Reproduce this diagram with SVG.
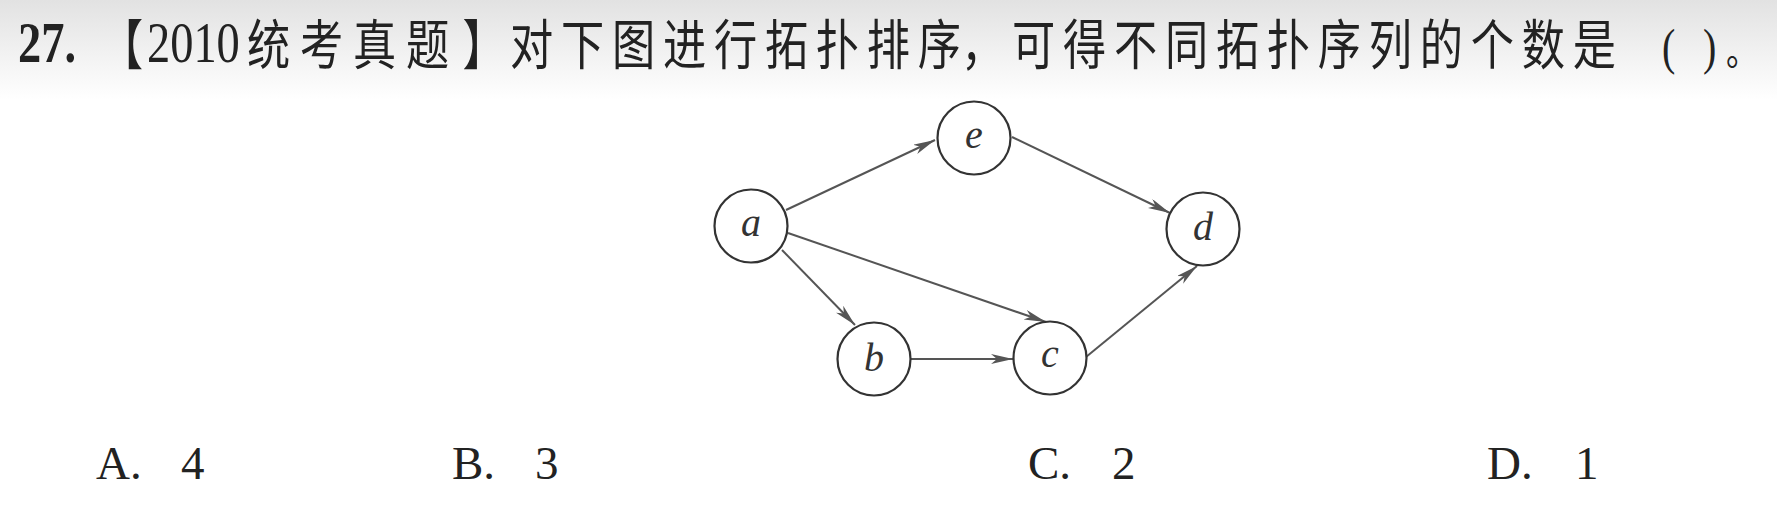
<svg xmlns="http://www.w3.org/2000/svg" width="1777" height="517" viewBox="0 0 1777 517">
  <defs>
    <linearGradient id="bg" x1="0" y1="0" x2="0" y2="1">
      <stop offset="0" stop-color="#e2e2e2"/>
      <stop offset="1" stop-color="#ffffff"/>
    </linearGradient>
    <marker id="arr" markerUnits="userSpaceOnUse" markerWidth="24" markerHeight="12" refX="22" refY="5" orient="auto">
      <path d="M0,0 L22,5 L0,10 L6,5 Z" fill="#555"/>
    </marker>
  </defs>
  <style>
    .lat { font-family: "Liberation Serif", "Times New Roman", serif; }
    .cjk { font-family: "Noto Sans CJK SC", "Noto Sans", sans-serif; }
    .title { fill: #222; }
    .node circle { fill: #fff; stroke: #333; stroke-width: 2.2; }
    .node text { font-family: "Liberation Serif", serif; font-style: italic; font-size: 40px; fill: #333; text-anchor: middle; }
    .edge { stroke: #555; stroke-width: 2; fill: none; marker-end: url(#arr); }
    .opt { font-family: "Liberation Serif", serif; font-size: 47px; fill: #222; }
  </style>
  <rect x="0" y="0" width="1777" height="517" fill="#fff"/>
  <rect x="0" y="0" width="1777" height="100" fill="url(#bg)"/>

  <g id="title" transform="scale(0.8,1)">
    <text class="title cjk" y="65" font-size="54"><tspan class="lat" x="22.5" y="62" font-size="58" font-weight="bold">27.</tspan><tspan x="125" y="65">【</tspan><tspan class="lat" x="183.75" y="62" font-size="58">2010</tspan><tspan x="308.75" y="65" letter-spacing="12.25">统考真题</tspan><tspan x="578" y="65">】</tspan><tspan x="637.5" y="65" letter-spacing="9.75">对下图进行拓扑排序</tspan><tspan x="1201.25" y="65" letter-spacing="9.75">，可得不同拓扑序列的个数是</tspan><tspan class="lat" x="2077.5" y="64" font-size="50">(</tspan><tspan class="lat" x="2128.75" y="64" font-size="50">)</tspan><tspan x="2157.5" y="65" font-size="40">。</tspan></text>
  </g>

  <g id="connectors">
    <line class="edge" x1="786" y1="210" x2="935" y2="140"/>
    <line class="edge" x1="1012" y1="137" x2="1170" y2="213"/>
    <line class="edge" x1="788" y1="233" x2="1046" y2="322"/>
    <line class="edge" x1="782" y1="250" x2="855" y2="325"/>
    <line class="edge" x1="911" y1="359" x2="1013" y2="359"/>
    <line class="edge" x1="1086" y1="357" x2="1197" y2="266"/>
  </g>

  <g id="node-a" class="node"><circle cx="751" cy="226" r="36.5"/><text x="751" y="236">a</text></g>
  <g id="node-e" class="node"><circle cx="974" cy="138" r="36.5"/><text x="974" y="148">e</text></g>
  <g id="node-d" class="node"><circle cx="1203" cy="229" r="36.5"/><text x="1203" y="240">d</text></g>
  <g id="node-b" class="node"><circle cx="874" cy="359" r="36.5"/><text x="874" y="371">b</text></g>
  <g id="node-c" class="node"><circle cx="1050" cy="358" r="36.5"/><text x="1050" y="367">c</text></g>

  <g id="options">
    <text class="opt" x="96" y="479">A.</text><text class="opt" x="181" y="479">4</text>
    <text class="opt" x="452" y="479">B.</text><text class="opt" x="535" y="479">3</text>
    <text class="opt" x="1028" y="479">C.</text><text class="opt" x="1112" y="479">2</text>
    <text class="opt" x="1487" y="479">D.</text><text class="opt" x="1575" y="479">1</text>
  </g>
</svg>
